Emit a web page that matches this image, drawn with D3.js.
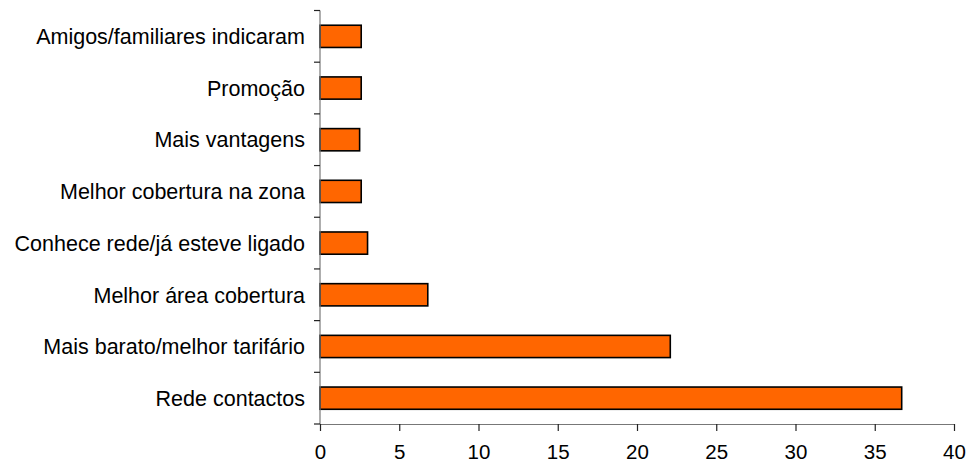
<!DOCTYPE html>
<html>
<head>
<meta charset="utf-8">
<script src="https://cdn.jsdelivr.net/npm/d3@7"></script>
<style>
  html, body { margin: 0; padding: 0; background: #fff; }
  svg { display: block; }
  text { font-family: "Liberation Sans", Arial, sans-serif; fill: #000; }
</style>
</head>
<body>
<svg id="chart" width="973" height="465"></svg>
<script>
// Reasons for choosing the operator (%), top to bottom
const categories = [
  "Amigos/familiares indicaram",
  "Promoção",
  "Mais vantagens",
  "Melhor cobertura na zona",
  "Conhece rede/já esteve ligado",
  "Melhor área cobertura",
  "Mais barato/melhor tarifário",
  "Rede contactos"
];
const values = [2.6, 2.6, 2.5, 2.6, 3.0, 6.8, 22.1, 36.7];
const xTicks = [0, 5, 10, 15, 20, 25, 30, 35, 40];

const svg = d3.select("#chart");
const plotLeft = 320, plotRight = 954, plotTop = 10.5, plotBottom = 424;

const x = d3.scaleLinear().domain([0, 40]).range([plotLeft, plotRight]);
const y = d3.scaleBand().domain(categories).range([plotTop, plotBottom]).paddingInner(0.57).paddingOuter(0.285);

// bars
svg.append("g")
  .selectAll("rect")
  .data(categories)
  .join("rect")
  .attr("x", x(0))
  .attr("y", d => y(d))
  .attr("width", (d, i) => x(values[i]) - x(0))
  .attr("height", y.bandwidth())
  .attr("fill", "#FF6600")
  .attr("stroke", "#000")
  .attr("stroke-width", 1.6);

// y axis: ticks sit between categories
const yAxis = svg.append("g").attr("transform", `translate(${plotLeft},0)`);
yAxis.append("line")
  .attr("x1", 0).attr("x2", 0).attr("y1", plotTop).attr("y2", plotBottom)
  .attr("stroke", "#777").attr("stroke-width", 1.2);
const step = (plotBottom - plotTop) / categories.length;
yAxis.selectAll("line.tick")
  .data(d3.range(categories.length + 1))
  .join("line")
  .attr("class", "tick")
  .attr("x1", -6).attr("x2", 0)
  .attr("y1", i => plotTop + i * step).attr("y2", i => plotTop + i * step)
  .attr("stroke", "#222").attr("stroke-width", 1.2);
yAxis.selectAll("text")
  .data(categories)
  .join("text")
  .attr("x", -15)
  .attr("y", d => y(d) + y.bandwidth() / 2)
  .attr("dy", "0.36em")
  .attr("text-anchor", "end")
  .attr("font-size", 21.5)
  .text(d => d);

// x axis
const xAxis = svg.append("g")
  .attr("transform", `translate(0,${plotBottom})`)
  .call(d3.axisBottom(x).tickValues(xTicks).tickSize(7).tickPadding(13).tickSizeOuter(0));
xAxis.select(".domain").attr("stroke", "#777").attr("stroke-width", 1.2);
xAxis.selectAll(".tick line").attr("stroke", "#222").attr("stroke-width", 1.2);
xAxis.selectAll(".tick text")
  .attr("font-size", 20.5)
  .attr("font-family", "'Liberation Sans', Arial, sans-serif")
  .attr("fill", "#000");
</script>
</body>
</html>
